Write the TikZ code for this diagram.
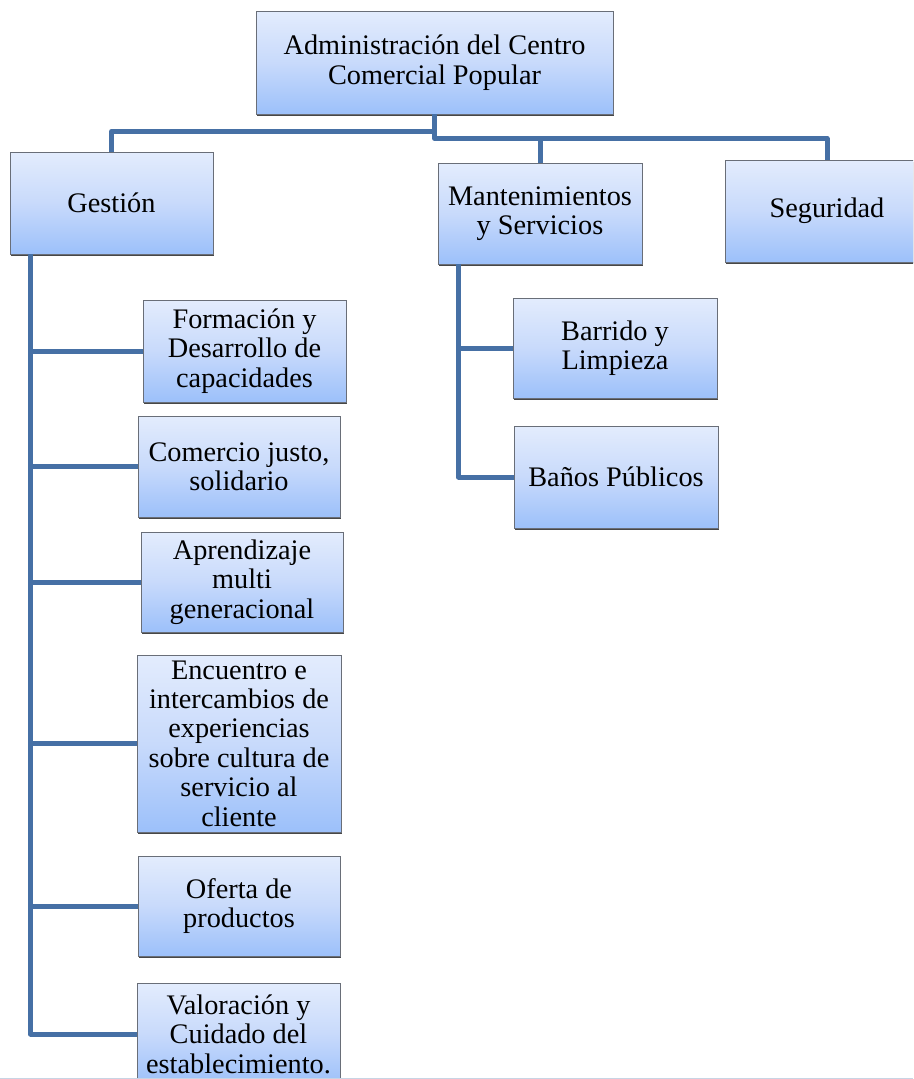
\documentclass[tikz,border=0pt]{standalone}
\usepackage{fontspec}
\setmainfont{Liberation Serif}
\usetikzlibrary{shadows}
\definecolor{linkblue}{RGB}{70,112,165}
\definecolor{boxtop}{RGB}{227,236,253}
\definecolor{boxmid}{RGB}{200,218,251}
\definecolor{boxbot}{RGB}{156,192,250}
\definecolor{boxedge}{RGB}{105,110,120}
\definecolor{pageline}{RGB}{200,212,228}
\begin{document}
\begin{tikzpicture}[x=1pt,y=-1pt,
  orgbox/.style={draw=boxedge, line width=0.8pt, rectangle, inner sep=0pt,
    top color=boxtop, bottom color=boxbot, middle color=boxmid,
    align=center, font=\fontsize{28.3}{29.4}\selectfont,
    general shadow={shadow xshift=1.3pt, shadow yshift=-1.6pt, fill=black!72}},
  link/.style={draw=linkblue, line width=5pt, line join=round}]
\useasboundingbox (0,0) rectangle (913,1079);
\begin{scope}
\clip (0,0) rectangle (913,1079);
% boxes
\node[orgbox, minimum width=357pt, minimum height=103pt] (top) at (434.5,62.5) {Administración del Centro\\Comercial Popular};
\node[orgbox, minimum width=203pt, minimum height=102pt] (gest) at (111.5,203) {Gestión};
\node[orgbox, minimum width=204pt, minimum height=101pt] (mant) at (540,213.5) {Mantenimientos\\y Servicios};
\node[orgbox, minimum width=204pt, minimum height=102pt] (seg) at (827,211) {Seguridad};
\node[orgbox, minimum width=203pt, minimum height=102pt] (form) at (244.5,351) {Formación y\\Desarrollo de\\capacidades};
\node[orgbox, minimum width=202pt, minimum height=101pt] (com) at (239,466.5) {Comercio justo,\\solidario};
\node[orgbox, minimum width=202pt, minimum height=100pt] (apr) at (242,582) {Aprendizaje\\multi\\generacional};
\node[orgbox, minimum width=204pt, minimum height=177pt] (enc) at (239,743.5) {Encuentro e\\intercambios de\\experiencias\\sobre cultura de\\servicio al\\cliente};
\node[orgbox, minimum width=202pt, minimum height=100pt] (ofe) at (239,906) {Oferta de\\productos};
\node[orgbox, minimum width=203pt, minimum height=102pt] (val) at (238.5,1034) {Valoración y\\Cuidado del\\establecimiento.};
\node[orgbox, minimum width=204pt, minimum height=100pt] (bar) at (615,348) {Barrido y\\Limpieza};
\node[orgbox, minimum width=204pt, minimum height=102pt] (ban) at (616,477) {Baños Públicos};
% connectors from the top box
\draw[link] (top.south) -- ++(0,17) -| (gest.north);
\draw[link] (top.south) -- ++(0,24) -| (mant.north);
\draw[link] (top.south) ++(0,24) -| (seg.north);
% Gestión spine
\coordinate (gs) at ([xshift=21pt]gest.south west);
\draw[link] (gs) |- (form.west);
\draw[link] (gs) |- (com.west);
\draw[link] (gs) |- (apr.west);
\draw[link] (gs) |- (enc.west);
\draw[link] (gs) |- (ofe.west);
\draw[link] (gs) |- (val.west);
% Mantenimientos spine
\coordinate (ms) at ([xshift=21pt]mant.south west);
\draw[link] (ms) |- (bar.west);
\draw[link] (ms) |- (ban.west);
% page edge line
\coordinate (pl) at (0,1078);
\coordinate (pr) at (913,1078);
\draw[pageline, line width=1pt] (pl) -- (pr);
\end{scope}
\end{tikzpicture}
\end{document}
